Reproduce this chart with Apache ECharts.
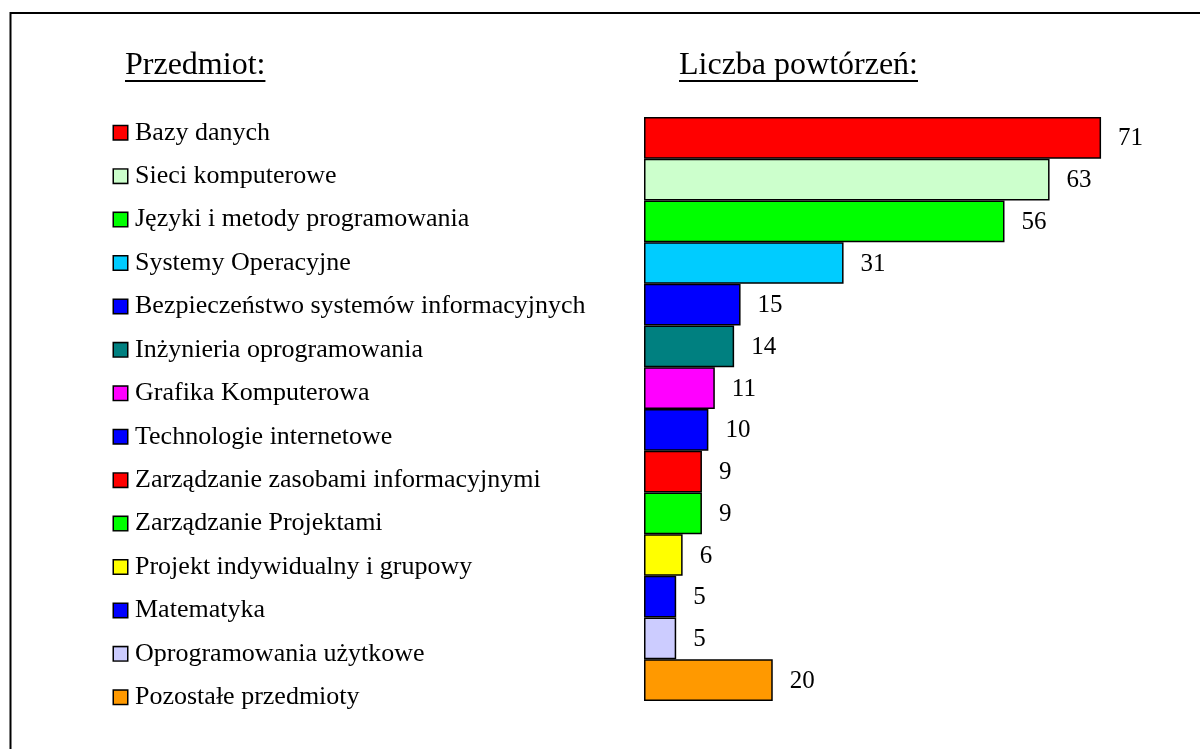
<!DOCTYPE html>
<html>
<head>
<meta charset="utf-8">
<script src="https://cdn.jsdelivr.net/npm/echarts@6/dist/echarts.min.js"></script>
<style>
  html, body { margin: 0; padding: 0; background: #fff; }
  #chart { width: 1200px; height: 749px; }
</style>
</head>
<body>
<div id="chart"></div>
<script>
// dane
var subjects = [
    'Bazy danych',
    'Sieci komputerowe',
    'Języki i metody programowania',
    'Systemy Operacyjne',
    'Bezpieczeństwo systemów informacyjnych',
    'Inżynieria oprogramowania',
    'Grafika Komputerowa',
    'Technologie internetowe',
    'Zarządzanie zasobami informacyjnymi',
    'Zarządzanie Projektami',
    'Projekt indywidualny i grupowy',
    'Matematyka',
    'Oprogramowania użytkowe',
    'Pozostałe przedmioty'
];
var counts = [71, 63, 56, 31, 15, 14, 11, 10, 9, 9, 6, 5, 5, 20];
var colors = ['#ff0000', '#ccffcc', '#00ff00', '#00ccff', '#0000ff', '#008080', '#ff00ff',
    '#0000ff', '#ff0000', '#00ff00', '#ffff00', '#0000ff', '#ccccff', '#ff9900'];
var headers = ['Przedmiot:', 'Liczba powtórzeń:'];
var headerX = [125, 679];

var serif = '"Liberation Serif", "Times New Roman", serif';

var chart = echarts.init(document.getElementById('chart'));

// kwadraciki legendy
var rich = { t: { fontFamily: serif, fontSize: 26, color: '#000', padding: [0, 0, 0, 8] } };
colors.forEach(function (c, i) {
    rich['s' + i] = { width: 13, height: 13, backgroundColor: c, borderColor: '#000', borderWidth: 1.5 };
});

// naglowki + podkreslenia
var ctx = document.createElement('canvas').getContext('2d');
ctx.font = '32px ' + serif;
var graphics = [
    {
        type: 'rect',
        shape: { x: 10.5, y: 13, width: 1400, height: 1000 },
        style: { fill: 'none', stroke: '#000', lineWidth: 2 }
    }
];
headers.forEach(function (h, k) {
    graphics.push({
        type: 'text', left: headerX[k], top: 50,
        style: { text: h, font: '32px ' + serif, fill: '#000' }
    });
    graphics.push({
        type: 'rect',
        shape: { x: headerX[k], y: 80, width: ctx.measureText(h).width, height: 2 },
        style: { fill: '#000' }
    });
});

var option = {
    backgroundColor: '#fff',
    animation: false,
    graphic: graphics,
    grid: [
        { left: 644, top: 117, width: 515, height: 584 },
        { left: 114, top: 111, width: 10, height: 608 }
    ],
    xAxis: [
        { gridIndex: 0, type: 'value', min: 0, max: 80, show: false },
        { gridIndex: 1, type: 'value', min: 0, max: 1, show: false }
    ],
    yAxis: [
        {
            gridIndex: 0, type: 'category', data: subjects, inverse: true,
            axisLine: { show: false }, axisTick: { show: false }, axisLabel: { show: false }
        },
        {
            gridIndex: 1, type: 'category', data: subjects, inverse: true,
            axisLine: { show: false }, axisTick: { show: false }, splitLine: { show: false },
            axisLabel: {
                inside: true, margin: 0, align: 'left',
                formatter: function (v, i) { return '{s' + i + '|}{t|' + v + '}'; },
                rich: rich
            }
        }
    ],
    series: [
        {
            type: 'bar',
            xAxisIndex: 0, yAxisIndex: 0,
            barCategoryGap: '0%',
            data: counts.map(function (v, i) {
                return { value: v, itemStyle: { color: colors[i] } };
            }),
            itemStyle: { borderColor: '#000', borderWidth: 1.5 },
            label: {
                show: true, position: 'right', distance: 17, offset: [0, 1],
                fontFamily: serif, fontSize: 25, color: '#000'
            }
        }
    ]
};

chart.setOption(option);
</script>
</body>
</html>
